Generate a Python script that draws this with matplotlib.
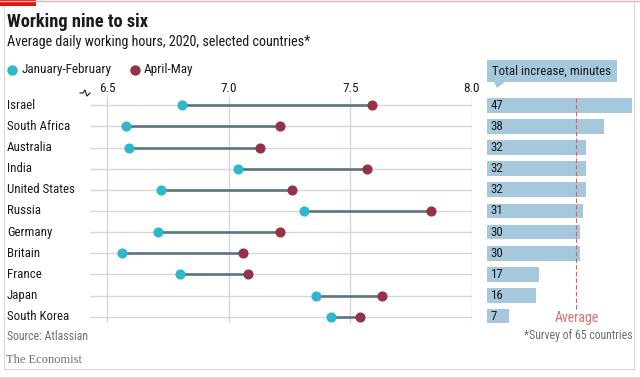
import numpy as np
import matplotlib
matplotlib.use("Agg")
from matplotlib import pyplot as plt
from matplotlib.patches import Rectangle, Polygon
from matplotlib.lines import Line2D

plt.rcParams['font.family'] = ['Roboto Condensed', 'DejaVu Sans']

countries = ['Israel', 'South Africa', 'Australia', 'India', 'United States', 'Russia',
             'Germany', 'Britain', 'France', 'Japan', 'South Korea']
jan_feb = [6.81, 6.58, 6.59, 7.04, 6.72, 7.31, 6.71, 6.56, 6.80, 7.36, 7.42]
apr_may = [7.59, 7.21, 7.13, 7.57, 7.26, 7.83, 7.21, 7.06, 7.08, 7.63, 7.54]
increase = [47, 38, 32, 32, 32, 31, 30, 30, 17, 16, 7]
average = 29
ticks = [6.5, 7.0, 7.5, 8.0]

W, H = 640, 377
CYAN = '#2fb8cb'
RED = '#963245'
LINK = '#5b7383'
BAR = '#a5c8dc'
GRID = '#cfd8de'
TXT = '#1a1a1a'
GREY = '#6e6e6e'

def fx(px):
    return px / W

def fy(py):
    return 1 - py / H

fig = plt.figure(figsize=(6.4, 3.77), dpi=100)

# main dumbbell axes
ax = fig.add_axes([fx(90), fy(323), fx(472) - fx(90), fy(97) - fy(323)])
y = np.arange(len(countries))
ax.set_xlim(6.43, 8.0)
ax.set_ylim(10.3, -0.39)
for t in ticks:
    ax.axvline(t, color=GRID, lw=1.0, zorder=0)
for yi in y:
    ax.axhline(yi, color=GRID, lw=1.0, zorder=0)
ax.hlines(y, jan_feb, apr_may, color=LINK, lw=1.9, zorder=2)
ax.plot(jan_feb, y, 'o', color=CYAN, ms=7.3, mec='none', zorder=3)
ax.plot(apr_may, y, 'o', color=RED, ms=7.3, mec='none', zorder=3)
ax.set_xticks([])
ax.set_yticks([])
for s in ax.spines.values():
    s.set_visible(False)
for t in ticks:
    ax.text(t, -0.5, f'{t:.1f}', ha='center', va='bottom', fontsize=9.5, color=TXT)
for yi, c in zip(y, countries):
    fig.text(fx(7), ax.transData.transform((0, yi))[1] / H, c, ha='left', va='center',
             fontsize=9.3, color=TXT)

# axis break mark
fig.add_artist(Line2D([fx(80), fx(83), fx(85), fx(87), fx(90)],
                      [fy(93), fy(93), fy(90), fy(96), fy(93)], color=TXT, lw=0.8))

# bar axes
bx = fig.add_axes([fx(487), fy(323), fx(632) - fx(487), fy(97) - fy(323)])
bx.set_xlim(0, 47)
bx.set_ylim(10.3, -0.39)
bx.barh(y, increase, height=0.7, color=BAR, zorder=1)
for yi, v in zip(y, increase):
    bx.text(1.2, yi, str(v), ha='left', va='center', fontsize=9.3, color=TXT, zorder=3)
bx.plot([average, average], [-0.35, 9.7], color='#d9605e', lw=0.8, ls=(0, (4, 2)), zorder=2)
bx.text(average, 10.05, 'Average', ha='center', va='center', fontsize=10, color='#d9736e')
bx.axis('off')

# header box
fig.add_artist(Rectangle((fx(487), fy(82)), fx(617) - fx(487), fy(60) - fy(82),
                         color=BAR, lw=0))
fig.add_artist(Polygon([(fx(494), fy(82)), (fx(505), fy(82)), (fx(497), fy(88))],
                       closed=True, color=BAR, lw=0))
fig.text(fx(492), fy(71), 'Total increase, minutes', ha='left', va='center',
         fontsize=9.3, color=TXT)

# titles and legend
fig.text(fx(7), fy(22), 'Working nine to six', ha='left', va='center',
         fontsize=13.2, fontweight='bold', color=TXT)
fig.text(fx(7), fy(42), 'Average daily working hours, 2020, selected countries*',
         ha='left', va='center', fontsize=10.2, color=TXT)
fig.add_artist(Line2D([fx(12)], [fy(70)], marker='o', color=CYAN, ms=7.5, mec='none'))
fig.text(fx(22), fy(70), 'January-February', ha='left', va='center', fontsize=9.5, color=TXT)
fig.add_artist(Line2D([fx(135)], [fy(70)], marker='o', color=RED, ms=7.5, mec='none'))
fig.text(fx(144), fy(70), 'April-May', ha='left', va='center', fontsize=9.5, color=TXT)

# footer
fig.text(fx(7), fy(336), 'Source: Atlassian', ha='left', va='center', fontsize=8.5, color=GREY)
fig.text(fx(633), fy(336), '*Survey of 65 countries', ha='right', va='center',
         fontsize=8.5, color=GREY)
fig.text(fx(6), fy(360), 'The Economist', ha='left', va='center', fontsize=9,
         color=GREY, family='Liberation Serif')

# frame and red tag
fig.add_artist(Rectangle((fx(4), fy(369)), fx(634) - fx(4), fy(1) - fy(369),
                         fill=False, ec='#d8d8d8', lw=0.8))
fig.add_artist(Line2D([fx(0), fx(640)], [fy(0.8), fy(0.8)], color='#f0b0b0', lw=1.0))
fig.add_artist(Rectangle((0, fy(6)), fx(36), fy(0) - fy(6), color='#e3120b', lw=0))

fig.savefig('out.png', dpi=100, facecolor='white')
